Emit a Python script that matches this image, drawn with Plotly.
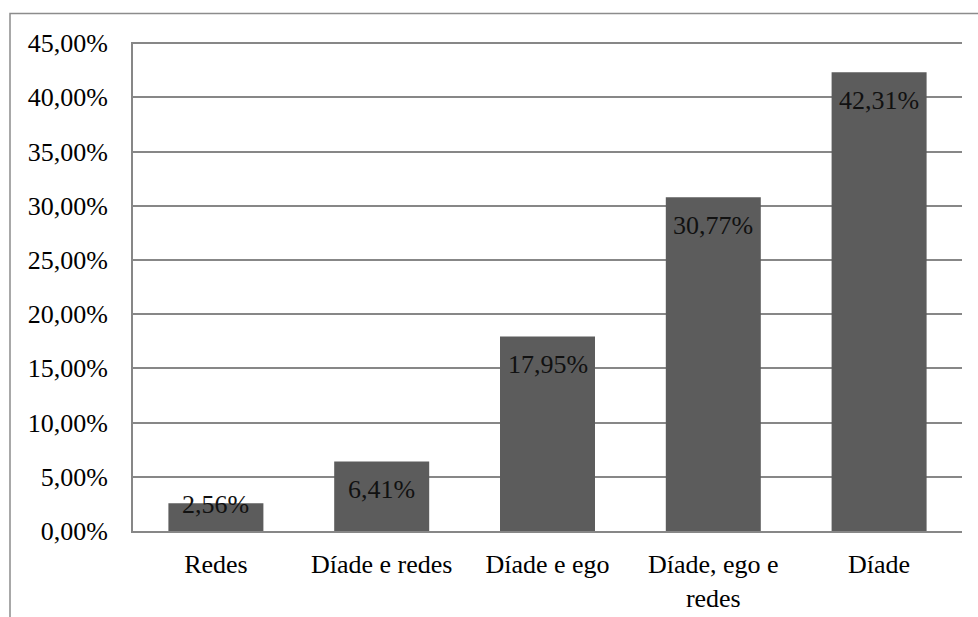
import plotly.graph_objects as go

categories = ["Redes", "Díade e redes", "Díade e ego", "Díade, ego e<br>redes", "Díade"]
shares = [0.0256, 0.0641, 0.1795, 0.3077, 0.4231]
y_ticks = [0.00, 0.05, 0.10, 0.15, 0.20, 0.25, 0.30, 0.35, 0.40, 0.45]

W, H = 978, 617
M_L, M_R, M_T, M_B = 133, 16, 42, 86
Y_MAX = 0.451
FONT = "Liberation Serif"
GRID = "#878787"

fig = go.Figure(
    go.Bar(
        x=categories,
        y=shares,
        marker=dict(color="#5c5c5c", line=dict(width=0)),
        hoverinfo="skip",
    )
)

# value labels placed just inside the top of each bar
plot_h = H - M_T - M_B
px_per_unit = plot_h / Y_MAX
for cat, v in zip(categories, shares):
    bar_px = v * px_per_unit
    offset = min(28, bar_px - 26)
    fig.add_annotation(
        x=cat, y=v, xref="x", yref="y",
        text=f"{v * 100:.2f}%".replace(".", ","),
        showarrow=False, yanchor="middle", yshift=-offset,
        font=dict(family=FONT, size=26, color="#111111"),
    )

# outer chart frame
fig.add_shape(
    type="rect", xref="paper", yref="paper",
    x0=(10 - M_L) / (W - M_L - M_R), x1=1.1,
    y0=-0.3, y1=1 + (M_T - 13.5) / plot_h,
    line=dict(color="#8c8c8c", width=1.5), fillcolor="rgba(0,0,0,0)",
    layer="below",
)

fig.update_layout(
    width=W, height=H,
    margin=dict(l=M_L, r=M_R, t=M_T, b=M_B, autoexpand=False),
    paper_bgcolor="white", plot_bgcolor="white",
    bargap=0.427,
    separators=",.",
    showlegend=False,
    font=dict(family=FONT, size=26, color="black"),
)
fig.update_xaxes(
    automargin=False,
    showgrid=False, showline=True, linecolor=GRID, linewidth=2,
    ticks="", tickfont=dict(family=FONT, size=26, color="black"),
    ticklabelstandoff=9,
)
fig.update_yaxes(
    automargin=False,
    range=[0, Y_MAX], tickvals=y_ticks, tickformat=".2%",
    showgrid=True, gridcolor=GRID, gridwidth=1.5,
    showline=True, linecolor=GRID, linewidth=2,
    zeroline=False, ticks="",
    tickfont=dict(family=FONT, size=26, color="black"),
    ticklabelstandoff=18,
)

fig.write_html("out.html")
